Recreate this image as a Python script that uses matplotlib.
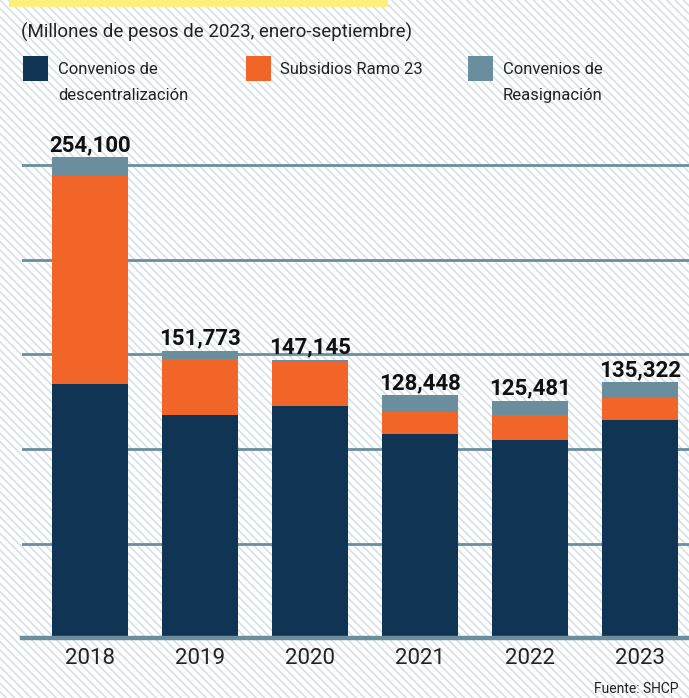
import matplotlib
matplotlib.use("Agg")
import matplotlib.pyplot as plt
from matplotlib.patches import Rectangle
import numpy as np

plt.rcParams['font.family'] = ['Roboto', 'DejaVu Sans']
plt.rcParams['hatch.linewidth'] = 1.2

years = ["2018", "2019", "2020", "2021", "2022", "2023"]
series_names = ["Convenios de\ndescentralización", "Subsidios Ramo 23", "Convenios de\nReasignación"]
descentralizacion = [134300, 118000, 122700, 108100, 104800, 115300]
subsidios = [110000, 29400, 23400, 11600, 13200, 11800]
reasignacion = [9800, 4373, 1045, 8748, 7481, 8222]
totals = [254100, 151773, 147145, 128448, 125481, 135322]
colors = ["#0f3454", "#f26529", "#6b8e9e"]

W, H = 689, 698
fig = plt.figure(figsize=(W / 100, H / 100), dpi=100)
fig.patch.set_facecolor("white")

def fx(px):
    return px / W

def fy(py):
    return 1 - py / H

# hatched background
bg = Rectangle((0, 0), 1, 1, transform=fig.transFigure, facecolor="white",
               edgecolor="#d6e0e7", linewidth=0, hatch="\\\\\\\\", zorder=-10)
fig.patches.append(bg)

# yellow strip at top
fig.patches.append(Rectangle((fx(9), fy(7)), fx(388) - fx(9), 7 / H,
                             transform=fig.transFigure, facecolor="#fdf07a",
                             edgecolor="none", zorder=1))

ax = fig.add_axes([fx(22), fy(638.3), 1 - fx(22), (638.3 - 127.2) / H])
ax.set_facecolor("none")
ax.patch.set_alpha(0)

x = np.arange(len(years))
bw = 0.69
ax.bar(x, descentralizacion, bw, color=colors[0], zorder=3)
ax.bar(x, subsidios, bw, bottom=descentralizacion, color=colors[1], zorder=3)
bottom2 = np.array(descentralizacion) + np.array(subsidios)
ax.bar(x, reasignacion, bw, bottom=bottom2, color=colors[2], zorder=3)

for xi, t in zip(x, totals):
    ax.annotate(f"{t:,}", (xi, t), xytext=(0, 4.5), textcoords="offset points",
                ha="center", va="baseline", fontsize=16, fontweight="bold",
                color="#111111", zorder=5)

ax.set_xlim(-0.618, 5.445)
ax.set_ylim(0, 270000)
ax.set_yticks([50000, 100000, 150000, 200000, 250000])
ax.yaxis.grid(True, color="#6b8e9e", linewidth=2.0, zorder=1)
ax.set_axisbelow(True)
ax.tick_params(axis="y", left=False, labelleft=False)
ax.set_xticks(x)
ax.set_xticklabels(years, fontsize=16, color="#222222")
ax.tick_params(axis="x", length=0, pad=7)
for s in ["top", "right", "left"]:
    ax.spines[s].set_visible(False)
ax.spines["bottom"].set_color("#6b8e9e")
ax.spines["bottom"].set_linewidth(3.2)
ax.spines["bottom"].set_zorder(4)

# title
fig.text(fx(21), fy(38), "(Millones de pesos de 2023, enero-septiembre)",
         fontsize=13.5, color="#222222", va="baseline", ha="left")

# legend
sq_x = [23, 246, 468]
tx_x = [58, 280, 503]
for c, sx, tx, name in zip(colors, sq_x, tx_x, series_names):
    fig.patches.append(Rectangle((fx(sx), fy(81)), 25 / W, 25 / H,
                                 transform=fig.transFigure, facecolor=c,
                                 edgecolor="none", zorder=2))
    lines = name.split("\n")
    for i, ln in enumerate(lines):
        fig.text(fx(tx), fy(74 + 26 * i), ln, fontsize=12, color="#222222",
                 va="baseline", ha="left")

fig.text(fx(678), fy(693), "Fuente: SHCP", fontsize=10, color="#222222",
         ha="right", va="baseline")

fig.savefig("out.png", dpi=100, facecolor=fig.get_facecolor())
